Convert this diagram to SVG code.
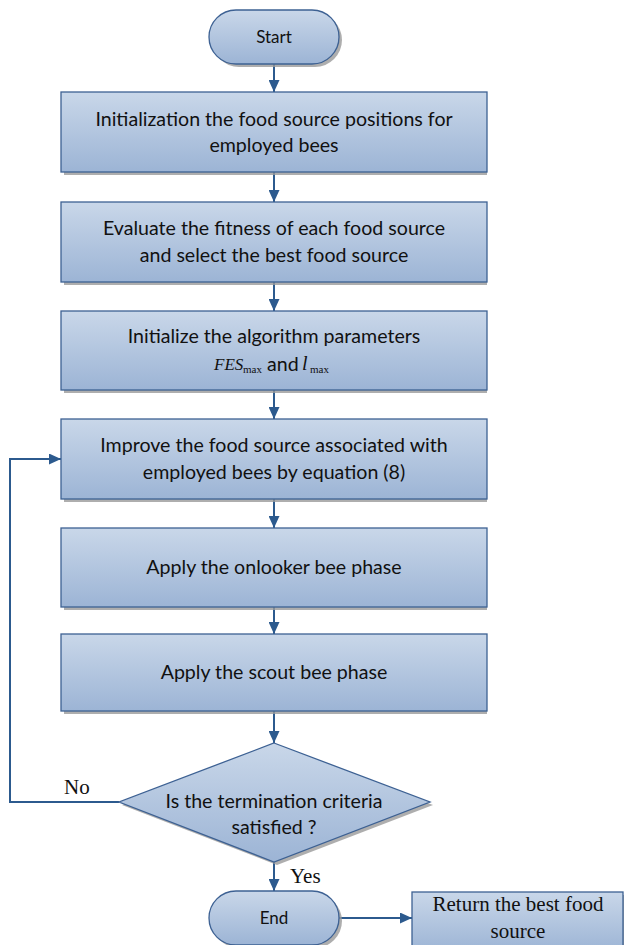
<svg xmlns="http://www.w3.org/2000/svg" width="624" height="945" viewBox="0 0 624 945">
<defs>
<linearGradient id="g" x1="0" y1="0" x2="0" y2="1">
<stop offset="0" stop-color="#c9d7e9"/>
<stop offset="1" stop-color="#9cb4d5"/>
</linearGradient>
<marker id="ah" markerUnits="userSpaceOnUse" markerWidth="12" markerHeight="11" refX="12" refY="5.5" orient="auto">
<path d="M0,0 L12,5.5 L0,11 z" fill="#2c5a8e"/>
</marker>
<style>
.sh{fill:#9a9a9a;opacity:0.8}
.nd{fill:url(#g);stroke:#3d6193;stroke-width:1.3}
.t{font-family:Lato,"Liberation Sans",sans-serif;font-size:19.6px;fill:#111;text-anchor:middle}
.ts{font-family:Lato,"Liberation Sans",sans-serif;font-size:17px;fill:#111;text-anchor:middle}
.tm{font-family:"Liberation Serif",serif;font-size:21px;fill:#111}
.c{fill:none;stroke:#2c5a8e;stroke-width:2}
</style>
</defs>
<g id="connectors">
<line class="c" x1="274" y1="64" x2="274" y2="92" marker-end="url(#ah)"/>
<line class="c" x1="274" y1="172" x2="274" y2="202" marker-end="url(#ah)"/>
<line class="c" x1="274" y1="282" x2="274" y2="311" marker-end="url(#ah)"/>
<line class="c" x1="274" y1="390" x2="274" y2="419" marker-end="url(#ah)"/>
<line class="c" x1="274" y1="499" x2="274" y2="528" marker-end="url(#ah)"/>
<line class="c" x1="274" y1="607" x2="274" y2="634" marker-end="url(#ah)"/>
<line class="c" x1="274" y1="711" x2="274" y2="743" marker-end="url(#ah)"/>
<line class="c" x1="274" y1="862" x2="274" y2="891" marker-end="url(#ah)"/>
<line class="c" x1="339" y1="918" x2="412" y2="918" marker-end="url(#ah)"/>
<polyline class="c" points="119,802 10,802 10,459 61,459" marker-end="url(#ah)"/>
<text class="tm" x="64" y="794">No</text>
<text class="tm" x="290" y="883">Yes</text>
</g>
<g id="start">
<rect class="sh" x="212" y="13" width="130" height="54" rx="27"/>
<rect class="nd" x="209" y="10" width="130" height="54" rx="27"/>
<text class="ts" x="274" y="43">Start</text>
</g>
<g id="init">
<rect class="sh" x="64" y="95" width="423" height="80"/>
<rect class="nd" x="61" y="92" width="426" height="80"/>
<text class="t" x="274" y="126">Initialization the food source positions for</text>
<text class="t" x="274" y="152">employed bees</text>
</g>
<g id="evaluate">
<rect class="sh" x="64" y="205" width="423" height="80"/>
<rect class="nd" x="61" y="202" width="426" height="80"/>
<text class="t" x="274" y="235">Evaluate the fitness of each food source</text>
<text class="t" x="274" y="262">and select the best food source</text>
</g>
<g id="params">
<rect class="sh" x="64" y="314" width="423" height="79"/>
<rect class="nd" x="61" y="311" width="426" height="79"/>
<text class="t" x="274" y="343">Initialize the algorithm parameters</text>
<text x="214" y="370" style="font-family:'Liberation Serif',serif;font-style:italic;font-size:17px;fill:#111">FES</text>
<text x="243" y="373" style="font-family:'Liberation Serif',serif;font-size:11px;fill:#111">max</text>
<text x="267" y="371" style="font-family:Lato,'Liberation Sans',sans-serif;font-size:19.6px;fill:#111">and</text>
<text x="302" y="370" style="font-family:'Liberation Serif',serif;font-style:italic;font-size:20px;fill:#111">l</text>
<text x="310" y="373" style="font-family:'Liberation Serif',serif;font-size:11px;fill:#111">max</text>
</g>
<g id="improve">
<rect class="sh" x="64" y="422" width="423" height="80"/>
<rect class="nd" x="61" y="419" width="426" height="80"/>
<text class="t" x="274" y="452">Improve the food source associated with</text>
<text class="t" x="274" y="479">employed bees by equation (8)</text>
</g>
<g id="onlooker">
<rect class="sh" x="64" y="531" width="423" height="79"/>
<rect class="nd" x="61" y="528" width="426" height="79"/>
<text class="t" x="274" y="574">Apply the onlooker bee phase</text>
</g>
<g id="scout">
<rect class="sh" x="64" y="637" width="423" height="77"/>
<rect class="nd" x="61" y="634" width="426" height="77"/>
<text class="t" x="274" y="679">Apply the scout bee phase</text>
</g>
<g id="decision">
<polygon class="sh" points="277,746 433,805 277,865 122,805"/>
<polygon class="nd" points="274,743 430,802 274,862 119,802"/>
<text class="t" x="274" y="808">Is the termination criteria</text>
<text class="t" x="274" y="834">satisfied ?</text>
</g>
<g id="end">
<rect class="sh" x="212" y="894" width="130" height="54" rx="27"/>
<rect class="nd" x="209" y="891" width="130" height="54" rx="27"/>
<text class="ts" x="274" y="924">End</text>
</g>
<g id="return">
<rect class="sh" x="415" y="895" width="211" height="60"/>
<rect class="nd" x="412" y="892" width="211" height="60"/>
<text class="tm" x="518" y="911" text-anchor="middle">Return the best food</text>
<text class="tm" x="518" y="938" text-anchor="middle">source</text>
</g>
</svg>
